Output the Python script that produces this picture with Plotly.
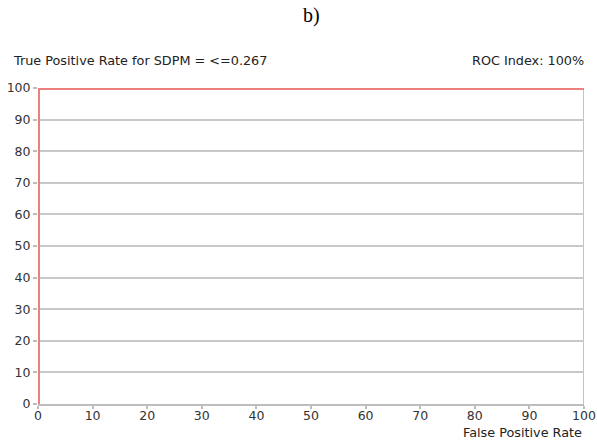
import plotly.graph_objects as go

# ROC curve points (False Positive Rate %, True Positive Rate %)
fpr = [0, 0, 100]
tpr = [0, 100, 100]
x_ticks = [0, 10, 20, 30, 40, 50, 60, 70, 80, 90, 100]
y_ticks = [0, 10, 20, 30, 40, 50, 60, 70, 80, 90, 100]

font_family = "DejaVu Sans, Verdana, sans-serif"

fig = go.Figure()
# line lies on the plot edges, so half of its width is clipped; width 4 shows ~2px
fig.add_trace(go.Scatter(x=fpr, y=tpr, mode="lines",
                         line=dict(color="#ec8080", width=4),
                         showlegend=False, hoverinfo="skip"))

fig.update_layout(
    width=597, height=442,
    margin=dict(l=38, r=13, t=88, b=38, autoexpand=False),
    paper_bgcolor="white", plot_bgcolor="white",
    font=dict(family=font_family, size=12.8, color="#222"),
    xaxis=dict(range=[0, 100], tickvals=x_ticks, showgrid=False, automargin=False,
               showline=True, linecolor="#bdbdbd", linewidth=2,
               ticks="outside", ticklen=3, tickcolor="#bdbdbd", tickwidth=1.5,
               ticklabelstandoff=-4,
               zeroline=False, tickfont=dict(size=12.5, color="#333")),
    yaxis=dict(range=[0, 100], tickvals=y_ticks, showgrid=True, automargin=False,
               gridcolor="#c8c8c8", gridwidth=2,
               showline=False, ticks="outside", ticklen=4,
               tickcolor="#bdbdbd", tickwidth=1.5,
               zeroline=False, tickfont=dict(size=12.5, color="#333")),
    shapes=[dict(type="line", xref="x", yref="paper", x0=100, x1=100, y0=0, y1=1,
                 line=dict(color="#c3c3c3", width=2), layer="below")],
    annotations=[
        dict(text="b)", xref="paper", yref="paper", x=0.5, y=1, xanchor="center",
             yanchor="middle", yshift=73, showarrow=False,
             font=dict(family="Liberation Serif, Times New Roman, serif", size=20, color="#000")),
        dict(text="True Positive Rate for SDPM = <=0.267", xref="paper", yref="paper",
             x=0, xshift=-27, y=1, yshift=28, xanchor="left", yanchor="middle",
             showarrow=False, font=dict(size=12.8, color="#222")),
        dict(text="ROC Index: 100%", xref="paper", yref="paper",
             x=1, xshift=2, y=1, yshift=28, xanchor="right", yanchor="middle",
             showarrow=False, font=dict(size=12.8, color="#222")),
        dict(text="False Positive Rate", xref="paper", yref="paper",
             x=1, y=0, yshift=-28, xanchor="right", yanchor="middle",
             showarrow=False, font=dict(size=12.8, color="#222")),
    ],
)

fig.write_html("out.html", config={"displayModeBar": False},
               post_script="document.body.style.margin='0px';document.body.style.overflow='hidden';")
